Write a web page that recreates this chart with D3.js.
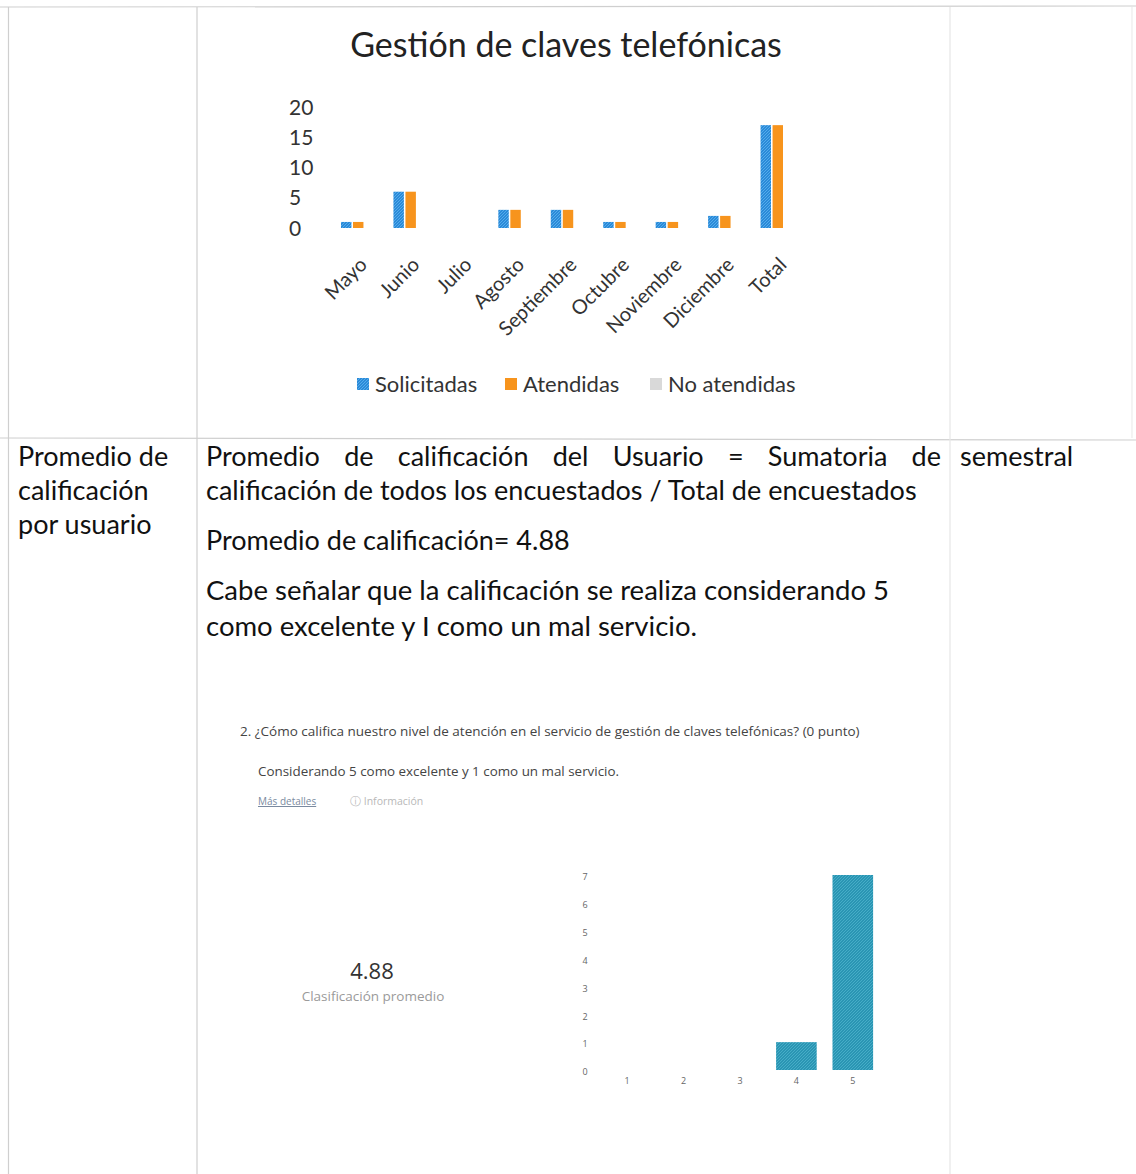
<!DOCTYPE html>
<html><head><meta charset="utf-8">
<script src="https://cdn.jsdelivr.net/npm/d3@7"></script>
<style>
html,body{margin:0;padding:0;background:#fff;}
svg{display:block;}
</style></head>
<body>
<svg id="c" width="1136" height="1174"></svg>
<script>
// ---- data ----
const months = ["Mayo","Junio","Julio","Agosto","Septiembre","Octubre","Noviembre","Diciembre","Total"];
const seriesNames = ["Solicitadas","Atendidas","No atendidas"];
const solicitadas = [1,6,0,3,3,1,1,2,17];
const atendidas   = [1,6,0,3,3,1,1,2,17];
const noAtendidas = [0,0,0,0,0,0,0,0,0];
const yTicks = [0,5,10,15,20];

const ratingCats = ["1","2","3","4","5"];
const ratingCounts = [0,0,0,1,7];
const ratingTicks = [0,1,2,3,4,5,6,7];

const svg = d3.select("#c");
const defs = svg.append("defs");
function hatch(id, base, line, size){
  const p = defs.append("pattern").attr("id",id).attr("patternUnits","userSpaceOnUse")
    .attr("width",size).attr("height",size);
  p.append("rect").attr("width",size).attr("height",size).attr("fill",base);
  p.append("path").attr("d",`M0,${size} L${size},0 M${-size/2},${size/2} L${size/2},${-size/2} M${size/2},${size*1.5} L${size*1.5},${size/2}`)
    .attr("stroke",line).attr("stroke-width",0.9);
}
hatch("hb","#2B8AD8","#58B0EE",3);
hatch("ht","#2A95B3","#4AB0C9",3);

// ---- table lines ----
const lc = "#cfcfcf";
const T = svg.append("g").attr("stroke",lc).attr("stroke-width",1.2);
T.append("line").attr("x1",0).attr("x2",1136).attr("y1",7).attr("y2",6);
T.append("line").attr("x1",0).attr("x2",1136).attr("y1",438).attr("y2",440);
T.append("line").attr("x1",8.5).attr("x2",8.5).attr("y1",7).attr("y2",1174);
T.append("line").attr("x1",197).attr("x2",197).attr("y1",7).attr("y2",1174);
T.append("line").attr("x1",950).attr("x2",950).attr("y1",7).attr("y2",1174).attr("stroke","#e6e6e6");
T.append("line").attr("x1",1132).attr("x2",1132).attr("y1",7).attr("y2",438).attr("stroke","#ececec");

// ---- top chart ----
const F1 = "Lato, 'Open Sans', sans-serif";
svg.append("text").attr("x",566).attr("y",57).attr("text-anchor","middle")
  .attr("font-family",F1).attr("font-size",34).attr("fill","#222")
  .text("Gestión de claves telefónicas");

const x0 = d3.scaleBand().domain(months).range([332,804]).paddingInner(0.343).paddingOuter(0.1715);
const x1 = d3.scaleBand().domain(seriesNames).range([0,x0.bandwidth()]).paddingInner(0.13);
const y = d3.scaleLinear().domain([0,20]).range([228,107]);
const fills = {"Solicitadas":"url(#hb)","Atendidas":"#F7941D","No atendidas":"#D9D9D9"};
const vals = {"Solicitadas":solicitadas,"Atendidas":atendidas,"No atendidas":noAtendidas};

const yAx = svg.append("g").attr("font-family",F1).attr("font-size",21).attr("fill","#333");
yAx.selectAll("text").data(yTicks).join("text")
  .attr("x",289).attr("y",d=>y(d)).attr("dy","0.36em").text(d=>d);

const bars = svg.append("g");
seriesNames.forEach(s=>{
  bars.selectAll(null).data(months).join("rect")
    .attr("x",m=>x0(m)+x1(s))
    .attr("width",x1.bandwidth())
    .attr("y",(m,i)=>y(vals[s][i]))
    .attr("height",(m,i)=>y(0)-y(vals[s][i]))
    .attr("fill",fills[s]);
});

svg.append("g").selectAll("text").data(months).join("text")
  .attr("font-family",F1).attr("font-size",20).attr("fill","#333")
  .attr("text-anchor","end")
  .attr("transform",m=>`translate(${x0(m)+x0.bandwidth()/2+10},${266}) rotate(-45)`)
  .text(m=>m);

const legX = [357,505,650];
const lg = svg.append("g").attr("font-family",F1).attr("font-size",22).attr("fill","#333");
seriesNames.forEach((s,i)=>{
  lg.append("rect").attr("x",legX[i]).attr("y",378).attr("width",12).attr("height",12).attr("fill",fills[s]);
  lg.append("text").attr("x",legX[i]+18).attr("y",384).attr("dy","0.36em").text(s);
});

// ---- lower section text ----
const F2 = "Lato, 'Open Sans', sans-serif";
const left = svg.append("g").attr("font-family",F2).attr("font-size",27).attr("fill","#111");
["Promedio de","calificación","por usuario"].forEach((t,i)=>{
  left.append("text").attr("x",18).attr("y",466+i*34).text(t);
});
const main = svg.append("g").attr("font-family",F2).attr("font-size",27).attr("fill","#111");
// justified first line: words spread from x=206 to x=941
(function(){
  const words = "Promedio de calificación del Usuario = Sumatoria de".split(" ");
  const ts = words.map(w=>main.append("text").attr("y",466).text(w));
  const widths = ts.map(t=>t.node().getComputedTextLength());
  const total = d3.sum(widths);
  const gap = (941-206-total)/(words.length-1);
  let xx = 206;
  ts.forEach((t,i)=>{ t.attr("x",xx); xx += widths[i]+gap; });
})();
main.append("text").attr("x",960).attr("y",466).text("semestral");
main.append("text").attr("x",206).attr("y",500).text("calificación de todos los encuestados / Total de encuestados");
main.append("text").attr("x",206).attr("y",550).text("Promedio de calificación= 4.88");
main.append("text").attr("x",206).attr("y",600).attr("font-size",27.5).text("Cabe señalar que la calificación se realiza considerando 5");
main.append("text").attr("x",206).attr("y",636).attr("font-size",27.5).text("como excelente y I como un mal servicio.");

// ---- embedded form screenshot ----
const F3 = "'Open Sans', 'Noto Sans', sans-serif";
const sg = svg.append("g").attr("font-family",F3);
sg.append("text").attr("x",240).attr("y",736).attr("font-size",13.5).attr("fill","#444")
  .text("2.  ¿Cómo califica nuestro nivel de atención en el servicio de gestión de claves telefónicas?  (0 punto)");
sg.append("text").attr("x",258).attr("y",776).attr("font-size",13.4).attr("fill","#444")
  .text("Considerando 5 como excelente y 1 como un mal servicio.");
sg.append("text").attr("x",258).attr("y",805).attr("font-size",10).attr("fill","#7a8aa0")
  .attr("text-decoration","underline").text("Más detalles");
sg.append("text").attr("x",350).attr("y",805).attr("font-size",10.5).attr("fill","#b8b8b8")
  .text("ⓘ Información");
sg.append("text").attr("x",372).attr("y",979).attr("text-anchor","middle").attr("font-size",22).attr("fill","#333")
  .text("4.88");
sg.append("text").attr("x",373).attr("y",1001).attr("text-anchor","middle").attr("font-size",13.5).attr("fill","#9a9a9a")
  .text("Clasificación promedio");

const x2 = d3.scaleBand().domain(ratingCats).range([599,881]).paddingInner(0.28).paddingOuter(0.14);
const y2 = d3.scaleLinear().domain([0,7]).range([1070,875]);
sg.append("g").selectAll("text").data(ratingTicks).join("text")
  .attr("x",585).attr("y",d=>y2(d)+2).attr("dy","0.36em").attr("text-anchor","middle")
  .attr("font-size",9).attr("fill","#666").text(d=>d);
sg.append("g").selectAll("rect").data(ratingCats).join("rect")
  .attr("x",c=>x2(c)).attr("width",x2.bandwidth())
  .attr("y",(c,i)=>y2(ratingCounts[i])).attr("height",(c,i)=>y2(0)-y2(ratingCounts[i]))
  .attr("fill","url(#ht)");
sg.append("g").selectAll("text").data(ratingCats).join("text")
  .attr("x",c=>x2(c)+x2.bandwidth()/2).attr("y",1084).attr("text-anchor","middle")
  .attr("font-size",9).attr("fill","#666").text(c=>c);
</script>
</body></html>
